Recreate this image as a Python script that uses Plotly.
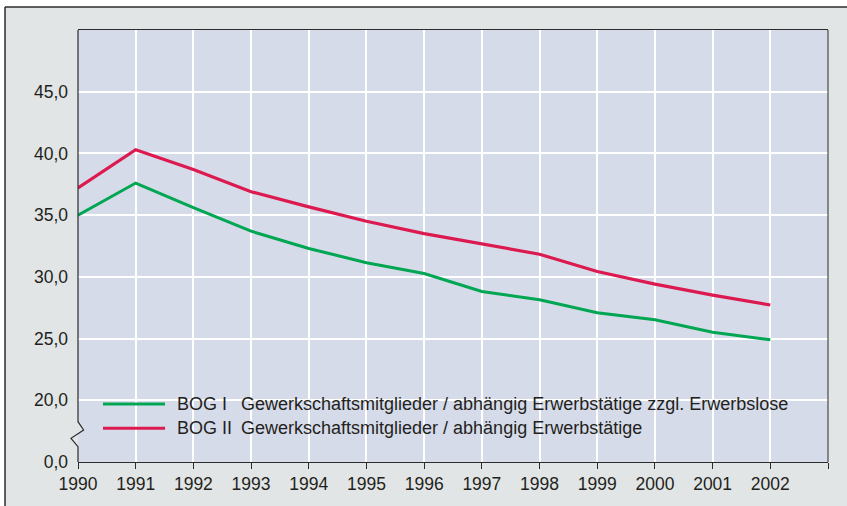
import plotly.graph_objects as go

years = list(range(1990, 2003))
bog1 = [35.0, 37.6, 35.6, 33.7, 32.3, 31.15, 30.27, 28.82, 28.15, 27.1, 26.53, 25.51, 24.9]
bog2 = [37.2, 40.3, 38.7, 36.9, 35.67, 34.5, 33.5, 32.69, 31.83, 30.43, 29.41, 28.52, 27.72]
series_tags = ["BOG I", "BOG II"]
series_desc = ["Gewerkschaftsmitglieder / abhängig Erwerbstätige zzgl. Erwerbslose",
               "Gewerkschaftsmitglieder / abhängig Erwerbstätige"]
x_ticks = list(range(1990, 2004))
x_ticktext = [str(y) for y in range(1990, 2003)] + [""]
y_ticks = [15, 20, 25, 30, 35, 40, 45]
y_ticktext = ["0,0", "20,0", "25,0", "30,0", "35,0", "40,0", "45,0"]

GREEN = "#00a651"
RED = "#dc1a4f"
PLOT_BG = "#d6dbea"
OUTER = "#e2e5e5"
DARK = "#2b2b2b"
FONT = "Liberation Sans, Arial, sans-serif"
FS = 17.5
FS_LEG = 18

fig = go.Figure()
fig.add_trace(go.Scatter(x=years, y=bog1, mode="lines", line=dict(color=GREEN, width=3),
                         name=series_tags[0], showlegend=False))
fig.add_trace(go.Scatter(x=years, y=bog2, mode="lines", line=dict(color=RED, width=3.2),
                         name=series_tags[1], showlegend=False))

W, H = 847, 506
ml, mr, mt, mb = 78, 19, 30, 44
pw, ph = W - ml - mr, H - mt - mb

def px_x(p):
    return (p - ml) / pw

def px_y(p):
    return (H - mb - p) / ph

shapes = []
# white margins outside the outer frame
shapes.append(dict(type="rect", xref="paper", yref="paper", x0=px_x(-10), x1=px_x(5), y0=px_y(600), y1=px_y(-10),
                   fillcolor="white", line=dict(width=0), layer="above"))
shapes.append(dict(type="rect", xref="paper", yref="paper", x0=px_x(-10), x1=px_x(900), y0=px_y(7), y1=px_y(-10),
                   fillcolor="white", line=dict(width=0), layer="above"))
# outer frame border lines
shapes.append(dict(type="line", xref="paper", yref="paper", x0=px_x(5), x1=px_x(900), y0=px_y(7), y1=px_y(7),
                   line=dict(color=DARK, width=1.5)))
shapes.append(dict(type="line", xref="paper", yref="paper", x0=px_x(5), x1=px_x(5), y0=px_y(7), y1=px_y(600),
                   line=dict(color=DARK, width=1.5)))
# right border of plot
shapes.append(dict(type="line", xref="paper", yref="paper", x0=1, x1=1, y0=0, y1=1,
                   line=dict(color=DARK, width=1)))
# axis break fill and left axis line with zigzag
shapes.append(dict(type="path", xref="paper", yref="paper", xsizemode="pixel", ysizemode="pixel",
                   xanchor=0, yanchor=0, path="M0,40.3 L5.6,32 L-7,23.7 L0,15.3 Z",
                   fillcolor=OUTER, line=dict(width=0)))
shapes.append(dict(type="path", xref="paper", yref="paper", xsizemode="pixel", ysizemode="pixel",
                   xanchor=0, yanchor=0, path=f"M0,{ph} L0,40.3 L5.6,32 L-7,23.7 L0,15.3 L0,0",
                   line=dict(color=DARK, width=1.2)))

annotations = []
legend_rows_y = [404, 428.3]
colors = [GREEN, RED]
for i in range(2):
    yy = px_y(legend_rows_y[i])
    shapes.append(dict(type="line", xref="paper", yref="paper", x0=px_x(103), x1=px_x(165), y0=yy, y1=yy,
                       line=dict(color=colors[i], width=3)))
    annotations.append(dict(xref="paper", yref="paper", x=px_x(175), y=yy, text=series_tags[i],
                            showarrow=False, xanchor="left", yanchor="middle",
                            font=dict(family=FONT, size=FS_LEG, color="#231f20")))
    annotations.append(dict(xref="paper", yref="paper", x=px_x(239), y=yy, text=series_desc[i],
                            showarrow=False, xanchor="left", yanchor="middle",
                            font=dict(family=FONT, size=FS_LEG, color="#231f20")))

fig.update_layout(
    width=W, height=H,
    margin=dict(l=ml, r=mr, t=mt, b=mb, pad=0),
    paper_bgcolor=OUTER, plot_bgcolor=PLOT_BG,
    font=dict(family=FONT, size=FS, color="#231f20"),
    shapes=shapes, annotations=annotations,
    xaxis=dict(range=[1990, 2003], tickvals=x_ticks, ticktext=x_ticktext,
               showgrid=True, gridcolor="white", gridwidth=1.5,
               showline=True, linecolor=DARK, linewidth=1, mirror=True,
               ticks="outside", ticklen=6, tickcolor=DARK, tickwidth=1,
               zeroline=False, fixedrange=True),
    yaxis=dict(range=[15, 50], tickvals=y_ticks, ticktext=y_ticktext,
               showgrid=True, gridcolor="white", gridwidth=1.5,
               showline=False, ticks="", ticklabelstandoff=9,
               zeroline=False, fixedrange=True),
    showlegend=False,
)

fig.write_html("out.html", config={"displayModeBar": False},
               post_script="document.body.style.margin='0px';document.body.style.overflow='hidden';")
